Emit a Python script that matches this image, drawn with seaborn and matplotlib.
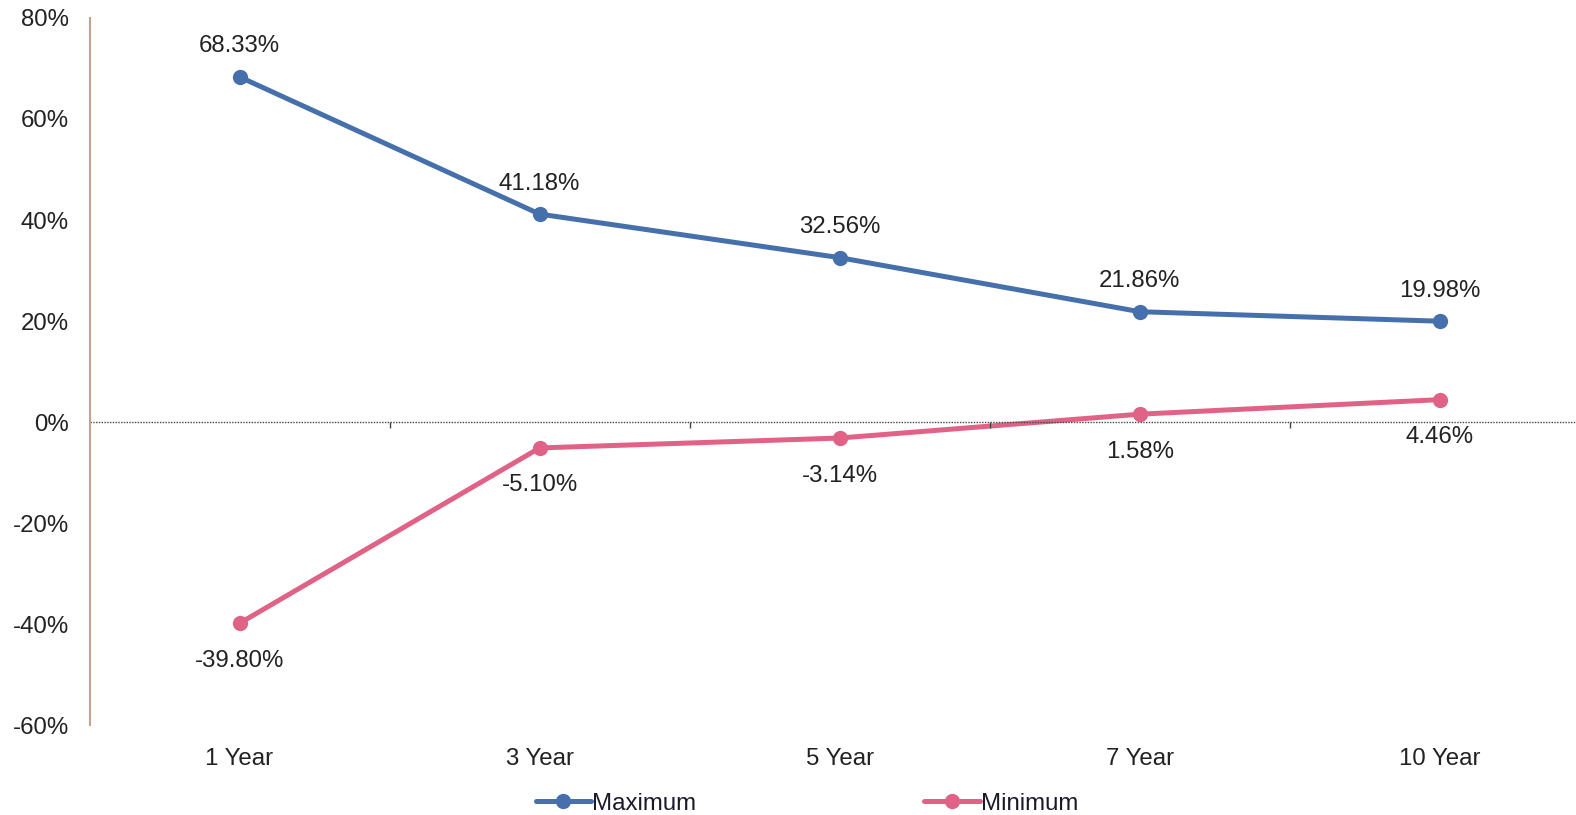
import numpy as np
import pandas as pd
import matplotlib
matplotlib.use("Agg")
import matplotlib.pyplot as plt
import seaborn as sns

# data
periods = ["1 Year", "3 Year", "5 Year", "7 Year", "10 Year"]
maximum = [68.33, 41.18, 32.56, 21.86, 19.98]
minimum = [-39.80, -5.10, -3.14, 1.58, 4.46]
y_ticks = [-60, -40, -20, 0, 20, 40, 60, 80]

blue = "#4570AC"
pink = "#E06287"
txt = "#222222"
fs = 17.3

df = pd.DataFrame({"period": periods * 2,
                   "value": maximum + minimum,
                   "series": ["Maximum"] * 5 + ["Minimum"] * 5})
df["x"] = np.tile(np.arange(len(periods)), 2)

sns.set_style("white")
plt.rcParams["font.family"] = ["Liberation Sans", "DejaVu Sans"]

fig = plt.figure(figsize=(15.76, 8.15), dpi=100)
ax = fig.add_axes([0.0568, 0.110, 0.952, 0.868])

sns.lineplot(data=df, x="x", y="value", hue="series",
             palette={"Maximum": blue, "Minimum": pink},
             marker="o", markersize=11, markeredgewidth=0,
             linewidth=3.6, ax=ax, legend=True)

# value labels
for i, v in enumerate(maximum):
    ax.annotate(f"{v:.2f}%", (i, v), xytext=(0, 22), textcoords="offset points",
                ha="center", va="center", fontsize=fs, color=txt)
for i, v in enumerate(minimum):
    ax.annotate(f"{v:.2f}%", (i, v), xytext=(0, -27), textcoords="offset points",
                ha="center", va="center", fontsize=fs, color=txt)

# dotted zero line with small marks between categories
ax.axhline(0, xmax=0.99, color="#444444", linestyle=(0, (1, 1)), linewidth=1)
bounds = np.arange(len(periods) - 1) + 0.5
ax.plot(bounds, np.zeros(len(bounds)), linestyle="none", marker=3,
        markersize=4, color="#444444", markeredgewidth=1)

ax.set_xlim(-0.5, 4.5)
ax.set_ylim(-60, 80)
ax.set_yticks(y_ticks)
ax.set_yticklabels([f"{t}%" for t in y_ticks], fontsize=fs, color=txt)
ax.set_xticks(range(len(periods)))
ax.set_xticklabels(periods, fontsize=fs, color=txt)
ax.tick_params(axis="y", length=0, pad=15)
ax.tick_params(axis="x", length=0, pad=16)
ax.set_xlabel("")
ax.set_ylabel("")

for s in ["top", "right", "bottom"]:
    ax.spines[s].set_visible(False)
ax.spines["left"].set_color("#C4A292")
ax.spines["left"].set_linewidth(1.5)

handles, labels = ax.get_legend_handles_labels()
ax.get_legend().remove()
fig.legend(handles, labels, loc="center", bbox_to_anchor=(0.512, 0.014),
           ncol=2, frameon=False, fontsize=fs, handlelength=2.3,
           handletextpad=0.05, columnspacing=9.5, labelcolor="#1a1a2a")

fig.savefig("out.png", dpi=100)
